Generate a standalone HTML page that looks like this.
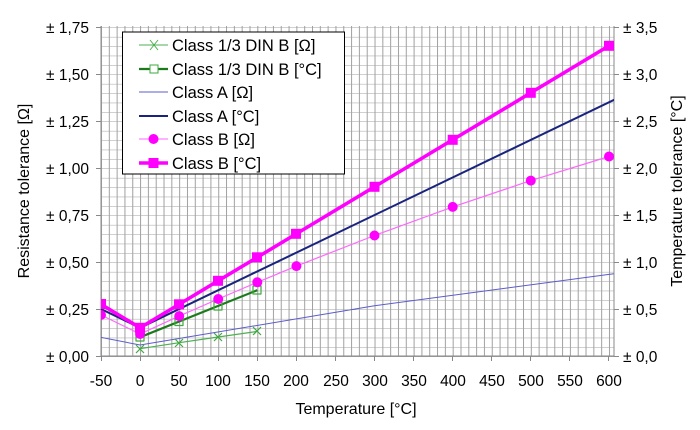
<!DOCTYPE html>
<html><head><meta charset="utf-8"><style>
body{margin:0;background:#fff}
svg text{font-family:"Liberation Sans",Arial,sans-serif;fill:#000}
</style></head><body>
<svg width="700" height="425" viewBox="0 0 700 425" xmlns="http://www.w3.org/2000/svg">
<defs>
<pattern id="gv" x="101" y="0" width="7.815" height="10" patternUnits="userSpaceOnUse"><line x1="0.5" y1="0" x2="0.5" y2="10" stroke="#a0a0a0" stroke-width="1"/></pattern>
<pattern id="gh" x="0" y="356.5" width="10" height="9.4" patternUnits="userSpaceOnUse"><line x1="0" y1="0" x2="10" y2="0" stroke="#a0a0a0" stroke-width="1"/></pattern>
<clipPath id="pc"><rect x="101" y="26" width="513" height="331"/></clipPath>
</defs>
<rect x="101" y="26" width="513" height="330" fill="url(#gv)"/>
<rect x="101" y="26" width="513" height="331" fill="url(#gh)"/>
<line x1="101" y1="26" x2="101" y2="356" stroke="#888"/>
<line x1="101" y1="356" x2="614" y2="356" stroke="#888"/>
<line x1="614" y1="26" x2="614" y2="356" stroke="#888"/>
<path stroke="#888" d="M96,356.5h5M96,309.5h5M96,262.5h5M96,215.5h5M96,168.5h5M96,121.5h5M96,74.5h5M96,27.5h5M614,356.5h5M614,309.5h5M614,262.5h5M614,215.5h5M614,168.5h5M614,121.5h5M614,74.5h5M614,27.5h5M101.5,356v5M140.5,356v5M179.5,356v5M218.5,356v5M257.5,356v5M296.5,356v5M335.5,356v5M374.5,356v5M413.5,356v5M452.5,356v5M491.5,356v5M530.5,356v5M569.5,356v5M608.5,356v5"/>
<g font-size="15.5" text-anchor="end">
<text x="89" y="362">± 0,00</text><text x="89" y="315">± 0,25</text><text x="89" y="268">± 0,50</text><text x="89" y="221">± 0,75</text><text x="89" y="174">± 1,00</text><text x="89" y="127">± 1,25</text><text x="89" y="80">± 1,50</text><text x="89" y="33">± 1,75</text>
</g>
<g font-size="15.5">
<text x="623" y="362">± 0,0</text><text x="623" y="315">± 0,5</text><text x="623" y="268">± 1,0</text><text x="623" y="221">± 1,5</text><text x="623" y="174">± 2,0</text><text x="623" y="127">± 2,5</text><text x="623" y="80">± 3,0</text><text x="623" y="33">± 3,5</text>
</g>
<g font-size="15.5" text-anchor="middle">
<text x="101" y="386">-50</text><text x="140" y="386">0</text><text x="179" y="386">50</text><text x="218" y="386">100</text><text x="257" y="386">150</text><text x="296" y="386">200</text><text x="336" y="386">250</text><text x="375" y="386">300</text><text x="414" y="386">350</text><text x="453" y="386">400</text><text x="492" y="386">450</text><text x="531" y="386">500</text><text x="570" y="386">550</text><text x="609" y="386">600</text>
</g>
<g font-size="16" text-anchor="middle">
<text x="356" y="414">Temperature [°C]</text>
<text transform="translate(29,191) rotate(-90)">Resistance tolerance [Ω]</text>
<text transform="translate(682,191) rotate(-90)">Temperature tolerance [°C]</text>
</g>
<g clip-path="url(#pc)" fill="none" stroke-linejoin="round">
<polyline stroke="#5c5ccc" stroke-width="1" points="101,337.4 140.1,345 374.5,305.8 609,274.4 616,273.5"/>
<polyline stroke="#1a237e" stroke-width="2" points="101,309 140.1,327.8 616,98.9"/>
<polyline stroke="#ff66ff" stroke-width="1.2" points="101,315 140.1,334 179.2,316.1 218.2,299 257.3,282.3 296.4,266.1 374.5,235.5 452.7,206.9 530.8,180.6 609,156.5"/>
<polyline stroke="#ff00ff" stroke-width="3.5" points="101,304.3 140.1,327.8 179.2,304.3 218.2,280.8 257.3,257.3 296.4,233.8 374.5,186.8 452.7,139.8 530.8,92.8 609,45.8"/>
<polyline stroke="#4caf50" stroke-width="1.2" points="140.1,348.7 179.2,342.7 218.2,337 257.3,331.4"/>
<polyline stroke="#1b7a1b" stroke-width="2.2" points="140.1,337.2 179.2,321.5 218.2,305.9 257.3,290.2"/>
<g fill="none" stroke="#3fa83f" stroke-width="1.2">
<rect x="136" y="333" width="8" height="8"/><rect x="175" y="317.5" width="8" height="8"/><rect x="214" y="302" width="8" height="8"/><rect x="253" y="286" width="8" height="8"/>
<path d="M136,345l8,8M144,345l-8,8M175,339l8,8M183,339l-8,8M214,333l8,8M222,333l-8,8M253,327l8,8M261,327l-8,8"/>
</g>
<g fill="#ff00ff" stroke="none">
<circle cx="101" cy="315" r="5"/><circle cx="140.1" cy="334" r="5"/><circle cx="179.2" cy="316.1" r="5"/><circle cx="218.2" cy="299" r="5"/><circle cx="257.3" cy="282.3" r="5"/><circle cx="296.4" cy="266.1" r="5"/><circle cx="374.5" cy="235.5" r="5"/><circle cx="452.7" cy="206.9" r="5"/><circle cx="530.8" cy="180.6" r="5"/><circle cx="609" cy="156.5" r="5"/>
<rect x="96" y="299" width="10" height="10"/><rect x="135" y="322.8" width="10" height="10"/><rect x="174" y="299.3" width="10" height="10"/><rect x="213" y="275.8" width="10" height="10"/><rect x="252" y="252.3" width="10" height="10"/><rect x="291" y="228.8" width="10" height="10"/><rect x="369.5" y="181.8" width="10" height="10"/><rect x="447.7" y="134.8" width="10" height="10"/><rect x="525.8" y="87.8" width="10" height="10"/><rect x="604" y="40.8" width="10" height="10"/>
</g>
</g>
<rect x="122.5" y="32" width="222" height="142" fill="#fff" stroke="#000" stroke-width="1"/>
<g font-size="16.5">
<line x1="139" y1="45" x2="168" y2="45" stroke="#4caf50"/><path d="M150,40l8,10M158,40l-8,10" stroke="#4caf50" fill="none"/>
<text x="172" y="51">Class 1/3 DIN B [Ω]</text>
<line x1="139" y1="69" x2="168" y2="69" stroke="#1b7a1b" stroke-width="2.2"/><rect x="150" y="65" width="8" height="8" fill="#fff" stroke="#3fa83f"/>
<text x="172" y="75">Class 1/3 DIN B [°C]</text>
<line x1="139" y1="92" x2="168" y2="92" stroke="#5c5ccc"/>
<text x="172" y="98">Class A [Ω]</text>
<line x1="139" y1="116" x2="168" y2="116" stroke="#1a237e" stroke-width="2"/>
<text x="172" y="122">Class A [°C]</text>
<line x1="139" y1="139" x2="168" y2="139" stroke="#ff66ff"/><circle cx="153.5" cy="139" r="5" fill="#ff00ff"/>
<text x="172" y="145">Class B [Ω]</text>
<line x1="139" y1="163" x2="168" y2="163" stroke="#ff00ff" stroke-width="3.5"/><rect x="148.5" y="158" width="10" height="10" fill="#ff00ff"/>
<text x="172" y="169">Class B [°C]</text>
</g>
</svg>
</body></html>
